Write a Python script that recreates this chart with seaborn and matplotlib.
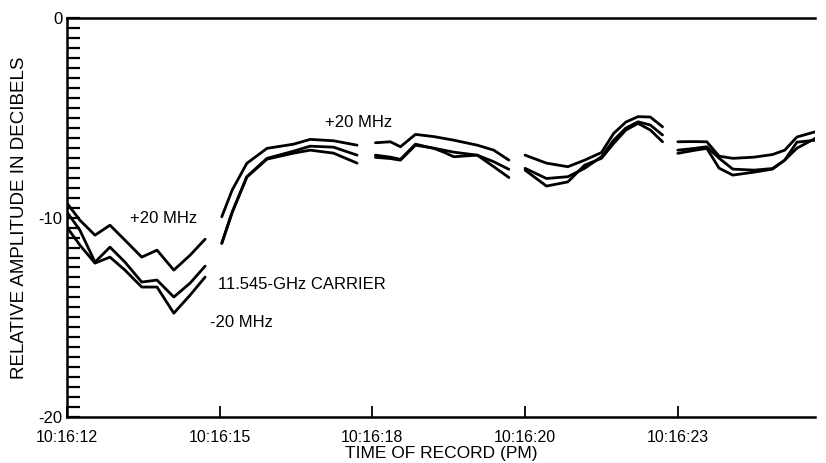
import numpy as np
import pandas as pd
import matplotlib
matplotlib.use("Agg")
import matplotlib.pyplot as plt
from matplotlib.ticker import MultipleLocator
import seaborn as sns

# x positions are the evenly spaced record marks (0 = 10:16:12 ... 4 = 10:16:23)
tick_pos = [0, 1, 2, 3, 4]
tick_labels = ["10:16:12", "10:16:15", "10:16:18", "10:16:20", "10:16:23"]

# segment 1
seg1_x = [0.0, 0.085, 0.184, 0.282, 0.38, 0.49, 0.59, 0.70, 0.807, 0.905]
seg1_plus = [-9.27, -10.13, -10.88, -10.38, -11.13, -11.98, -11.63, -12.63, -11.88, -11.08]
seg1_carrier = [-9.72, -10.63, -12.23, -11.48, -12.23, -13.23, -13.13, -13.98, -13.28, -12.43]
seg1_minus = [-10.48, -11.38, -12.28, -11.98, -12.63, -13.48, -13.48, -14.79, -13.88, -12.98]

# segment 2
seg2_x = [1.014, 1.082, 1.178, 1.31, 1.484, 1.593, 1.746, 1.9]
seg2_plus = [-9.96, -8.62, -7.28, -6.53, -6.32, -6.08, -6.15, -6.37]
seg2_carrier = [-11.29, -9.72, -7.95, -7.03, -6.67, -6.42, -6.47, -6.87]
seg2_minus = [-11.29, -9.75, -7.97, -7.07, -6.77, -6.62, -6.77, -7.27]

# segment 3
seg3_x = [2.02, 2.118, 2.184, 2.282, 2.402, 2.468, 2.533, 2.687, 2.795, 2.894]
seg3_plus = [-6.25, -6.2, -6.45, -5.83, -5.94, -6.03, -6.12, -6.37, -6.62, -7.12]
seg3_carrier = [-6.87, -6.97, -7.08, -6.32, -6.53, -6.72, -6.95, -6.87, -7.2, -7.58]
seg3_minus = [-6.98, -7.04, -7.12, -6.37, -6.52, -6.62, -6.72, -6.87, -7.45, -7.99]

# segment 4
seg4_x = [3.0, 3.14, 3.28, 3.39, 3.5, 3.58, 3.66, 3.74, 3.82, 3.9]
seg4_plus = [-6.87, -7.27, -7.45, -7.12, -6.74, -5.78, -5.21, -4.94, -4.96, -5.45]
seg4_carrier = [-7.53, -8.04, -7.95, -7.53, -6.95, -6.12, -5.51, -5.2, -5.36, -5.86]
seg4_minus = [-7.62, -8.42, -8.21, -7.37, -7.03, -6.28, -5.61, -5.28, -5.61, -6.2]

# segment 5
seg5_x = [4.0, 4.1, 4.19, 4.27, 4.36, 4.5, 4.62, 4.7, 4.78, 4.9]
seg5_plus = [-6.2, -6.19, -6.2, -6.92, -7.03, -6.97, -6.84, -6.62, -5.96, -5.7]
seg5_carrier = [-6.62, -6.54, -6.45, -7.02, -7.57, -7.62, -7.54, -7.12, -6.52, -6.03]
seg5_minus = [-6.78, -6.64, -6.53, -7.52, -7.87, -7.72, -7.57, -7.12, -6.22, -6.12]

segments = [
    (seg1_x, seg1_plus, seg1_carrier, seg1_minus),
    (seg2_x, seg2_plus, seg2_carrier, seg2_minus),
    (seg3_x, seg3_plus, seg3_carrier, seg3_minus),
    (seg4_x, seg4_plus, seg4_carrier, seg4_minus),
    (seg5_x, seg5_plus, seg5_carrier, seg5_minus),
]

rows = []
for i, (xs, p, c, m) in enumerate(segments):
    for name, ys in (("+20 MHz", p), ("carrier", c), ("-20 MHz", m)):
        for x, y in zip(xs, ys):
            rows.append({"t": x, "db": y, "series": name, "unit": f"{name}-{i}"})
df = pd.DataFrame(rows)

sns.set_style("ticks")
plt.rcParams["font.family"] = ["Liberation Sans", "DejaVu Sans"]
plt.rcParams["text.color"] = "black"
plt.rcParams["axes.labelcolor"] = "black"
plt.rcParams["xtick.color"] = "black"
plt.rcParams["ytick.color"] = "black"

fig = plt.figure(figsize=(8.26, 4.63), dpi=100)
ax = fig.add_axes([0.081, 0.099, 0.906, 0.862])

sns.lineplot(data=df, x="t", y="db", units="unit", estimator=None, sort=False,
             color="black", linewidth=2.0, ax=ax, legend=False)

ax.set_xlim(0, 4.9)
ax.set_ylim(-20, 0)
ax.set_xticks(tick_pos)
ax.set_xticklabels(tick_labels, fontsize=11.5)
ax.set_yticks([-20, -10, 0])
ax.set_yticklabels(["-20", "-10", "0"], fontsize=12)
ax.yaxis.set_minor_locator(MultipleLocator(0.5))
ax.tick_params(axis="y", which="both", direction="in", length=9, width=1.6, pad=3)
ax.tick_params(axis="x", which="major", direction="in", length=8, width=1.3, pad=9)

for s in ["left", "bottom", "top"]:
    ax.spines[s].set_linewidth(1.8)
    ax.spines[s].set_color("black")
ax.spines["right"].set_visible(False)

ax.set_xlabel("TIME OF RECORD (PM)", fontsize=12.5, labelpad=1)
ax.set_ylabel("RELATIVE AMPLITUDE IN DECIBELS", fontsize=13.5, labelpad=8)

ax.text(0.413, -10.03, "+20 MHz", fontsize=12, va="center", ha="left")
ax.text(0.99, -13.33, "11.545-GHz CARRIER", fontsize=12, va="center", ha="left")
ax.text(0.938, -15.24, "-20 MHz", fontsize=12, va="center", ha="left")
ax.text(1.69, -5.21, "+20 MHz", fontsize=12, va="center", ha="left")

fig.savefig("out.png", dpi=100)
